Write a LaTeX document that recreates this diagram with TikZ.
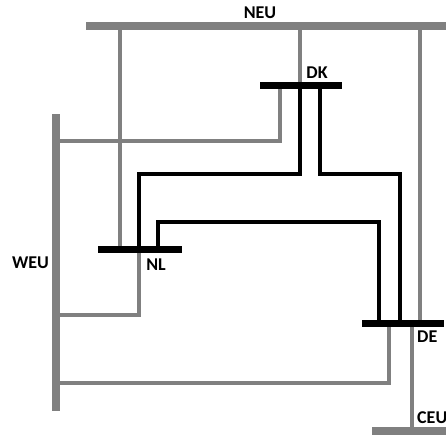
\documentclass[tikz,border=0pt]{standalone}
\usepackage{fontspec}
\setmainfont{Carlito}
\pgfdeclarelayer{bg}
\pgfsetlayers{bg,main}
\begin{document}
\begin{tikzpicture}[x=1pt,y=-1pt,
  gline/.style={draw=gbus,line width=4pt},
  bline/.style={draw=black,line width=4pt},
  hbus/.style={fill=#1,inner sep=0pt,outer sep=0pt,minimum height=7pt},
  vbus/.style={fill=#1,inner sep=0pt,outer sep=0pt,minimum width=8pt},
  lab/.style={font=\fontsize{18}{21}\selectfont\bfseries,inner sep=0pt}]
\definecolor{gbus}{RGB}{128,128,128}
\useasboundingbox (0,0) rectangle (446,434);
\clip (0,0) rectangle (446,434);
% buses
\node[hbus=gbus,minimum width=364pt,minimum height=8pt] (NEU) at (268,26) {};
\node[vbus=gbus,minimum height=297pt] (WEU) at (56,262.5) {};
\node[hbus=gbus,minimum width=78pt,minimum height=8pt] (CEU) at (411,431) {};
\node[hbus=black,minimum width=82pt] (DK) at (301,85) {};
\node[hbus=black,minimum width=84pt] (NL) at (140,249.5) {};
\node[hbus=black,minimum width=82pt] (DE) at (403,323.5) {};
% labels
\node[lab] (NEUl) at (260,13) {NEU};
\node[lab] (DKl) at (317,73) {DK};
\node[lab] (WEUl) at (30.5,263) {WEU};
\node[lab] (NLl) at (156,265) {NL};
\node[lab,anchor=west] (DEl) at (417,337) {DE};
\node[lab,anchor=west] (CEUl) at (417,418) {CEU};
\begin{pgfonlayer}{bg}
% gray connectors
\draw[gline] (NEU.center -| 120,0) -- (NL.center -| 120,0);
\draw[gline] (NEU.center -| 300,0) -- (DK.center -| 300,0);
\draw[gline] (NEU.center -| 420,0) -- (DE.center -| 420,0);
\draw[gline] (DK.center -| 280,0) |- (WEU.center |- 0,141);
\draw[gline] (NL.center -| 139,0) |- (WEU.center |- 0,315);
\draw[gline] (DE.center -| 389,0) |- (WEU.center |- 0,383);
\draw[gline] (DE.center -| 411.5,0) -- (CEU.center -| 411.5,0);
% black connectors
\draw[bline] (DK.center -| 300,0) |- (139,174) -- (NL.center -| 139,0);
\draw[bline] (DK.center -| 320,0) |- (400,174) -- (DE.center -| 400,0);
\draw[bline] (NL.center -| 158,0) |- (379,222) -- (DE.center -| 379,0);
\end{pgfonlayer}
\end{tikzpicture}
\end{document}
